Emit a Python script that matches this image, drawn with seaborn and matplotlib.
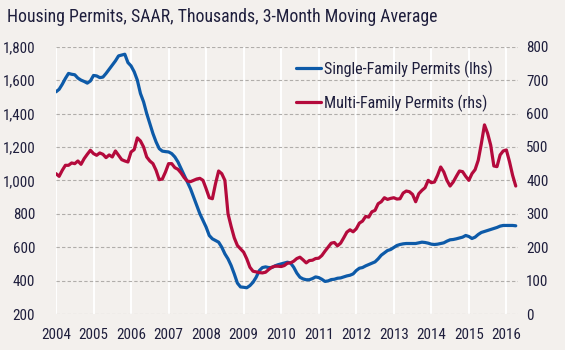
import numpy as np
import pandas as pd
import matplotlib
matplotlib.use("Agg")
import matplotlib.pyplot as plt
import seaborn as sns

# monthly, Jan 2004 .. Apr 2016 (thousands, SAAR, 3-month moving average)
single_family = [
    1530, 1545, 1575, 1610, 1640, 1635, 1632, 1612, 1600, 1592, 1582, 1595,   # 2004
    1628, 1625, 1615, 1618, 1640, 1665, 1690, 1715, 1745, 1750, 1755, 1705,   # 2005
    1685, 1650, 1600, 1520, 1470, 1400, 1340, 1280, 1230, 1190, 1175, 1172,   # 2006
    1170, 1160, 1140, 1110, 1070, 1030, 990, 950, 900, 850, 800, 760,         # 2007
    720, 670, 650, 640, 630, 600, 560, 530, 490, 440, 385, 362,               # 2008
    360, 357, 370, 390, 420, 460, 478, 482, 478, 478, 488, 495,               # 2009
    500, 505, 510, 505, 480, 445, 420, 410, 405, 405, 412, 422,               # 2010
    418, 408, 395, 398, 406, 408, 414, 416, 422, 428, 432, 440,               # 2011
    460, 474, 478, 488, 496, 504, 512, 530, 552, 566, 580, 586,               # 2012
    598, 610, 616, 620, 622, 622, 622, 622, 626, 630, 628, 624,               # 2013
    618, 616, 618, 622, 626, 636, 644, 646, 650, 655, 660, 670,               # 2014
    664, 652, 660, 676, 688, 694, 700, 706, 712, 718, 726, 730,               # 2015
    730, 730, 730, 728,                                                       # 2016
]
multi_family = [
    420, 412, 430, 445, 445, 452, 450, 458, 448, 465, 478, 490,   # 2004
    480, 475, 482, 478, 468, 476, 470, 488, 475, 462, 458, 455,   # 2005
    485, 492, 527, 518, 500, 470, 458, 450, 430, 402, 404, 425,   # 2006
    450, 450, 438, 433, 422, 408, 398, 396, 400, 404, 406, 400,   # 2007
    375, 348, 345, 390, 428, 420, 400, 300, 262, 228, 205, 195,   # 2008
    185, 165, 140, 128, 126, 124, 123, 125, 133, 140, 143, 143,   # 2009
    142, 145, 152, 153, 158, 166, 170, 162, 153, 160, 161, 166,   # 2010
    167, 175, 188, 200, 212, 214, 204, 212, 228, 245, 252, 246,   # 2011
    255, 272, 278, 292, 290, 306, 310, 330, 336, 348, 343, 346,   # 2012
    348, 344, 345, 362, 368, 366, 358, 336, 360, 370, 378, 400,   # 2013
    393, 395, 415, 440, 425, 400, 383, 395, 412, 428, 426, 412,   # 2014
    400, 420, 432, 460, 510, 566, 541, 505, 443, 441, 476, 488,   # 2015
    491, 456, 415, 383,                                           # 2016
]
years = list(range(2004, 2017))
left_ticks = [200, 400, 600, 800, 1000, 1200, 1400, 1600, 1800]
right_ticks = [0, 100, 200, 300, 400, 500, 600, 700, 800]

n = len(single_family)
df = pd.DataFrame({
    "t": 2004 + np.arange(n) / 12.0,
    "single": single_family,
    "multi": multi_family,
})

bg = "#F3F0ED"
txt = "#1E1E3C"
blue = "#0D5AA8"
red = "#B40A3C"

sns.set_theme(style="white")
plt.rcParams["font.family"] = ["Roboto Condensed", "Archivo Narrow", "Asap Condensed", "DejaVu Sans"]
plt.rcParams["text.color"] = txt

fig = plt.figure(figsize=(5.65, 3.5), dpi=100, facecolor=bg)
ax = fig.add_axes([56 / 565, 1 - 314 / 350, (518 - 56) / 565, (314 - 46.7) / 350])
ax.set_facecolor(bg)
ax2 = ax.twinx()
ax2.patch.set_visible(False)

sns.lineplot(data=df, x="t", y="single", ax=ax, color=blue, linewidth=2.3,
             label="Single-Family Permits (lhs)", legend=False)
sns.lineplot(data=df, x="t", y="multi", ax=ax2, color=red, linewidth=2.3,
             label="Multi-Family Permits (rhs)", legend=False)

ax.set_xlim(2004, 2016.31)
ax.set_ylim(200, 1800)
ax2.set_ylim(0, 800)
ax.set_xticks(years)
ax.set_xticklabels([str(y) for y in years])
ax.set_yticks(left_ticks)
ax.set_yticklabels([f"{v:,}" for v in left_ticks])
ax2.set_yticks(right_ticks)
ax2.set_yticklabels([str(v) for v in right_ticks])

for a in (ax, ax2):
    for s in a.spines.values():
        s.set_visible(False)
    a.set_xlabel("")
    a.set_ylabel("")
    a.tick_params(length=0, labelsize=10.8, colors=txt)
ax.tick_params(axis="x", pad=10)
ax.tick_params(axis="y", pad=15)
ax2.tick_params(axis="y", pad=6)

ax.xaxis.grid(True, color="white", linewidth=1.4, linestyle="-")
ax.yaxis.grid(True, color="#B0ADAA", linewidth=0.8, linestyle=(0, (3, 2)))
ax.set_axisbelow(True)

h1, l1 = ax.get_legend_handles_labels()
h2, l2 = ax2.get_legend_handles_labels()
leg = fig.legend(h1 + h2, l1 + l2, loc="upper left", bbox_to_anchor=(290 / 565, 1 - 54 / 350),
                 frameon=False, fontsize=11.5, handlelength=1.55, handletextpad=0.15,
                 labelspacing=1.05, borderaxespad=0)
for t in leg.get_texts():
    t.set_color(txt)

fig.text(7 / 565, 1 - 17 / 350, "Housing Permits, SAAR, Thousands, 3-Month Moving Average",
         fontsize=12.8, color=txt, va="center", ha="left")

fig.savefig("out.png", dpi=100, facecolor=bg)
